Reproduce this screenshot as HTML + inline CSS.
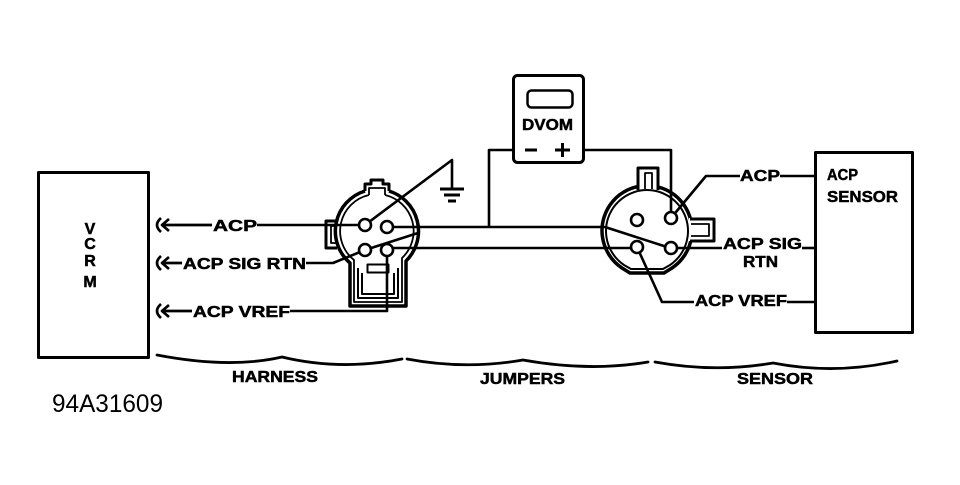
<!DOCTYPE html>
<html>
<head>
<meta charset="utf-8">
<style>
  html,body{margin:0;padding:0;background:#fff;}
  svg{display:block;}
  .lbl{font-family:"Liberation Sans",Arial,sans-serif;font-weight:bold;font-size:16px;fill:#000;stroke:#000;stroke-width:0.5px;}
  .num{font-family:"Liberation Sans",Arial,sans-serif;font-weight:normal;font-size:25px;fill:#000;stroke:none;}
</style>
</head>
<body>
<svg width="960" height="485" viewBox="0 0 960 485" xmlns="http://www.w3.org/2000/svg">
<rect width="960" height="485" fill="#fff"/>

<g fill="none" stroke="#000" stroke-linejoin="round">
  <!-- VCRM box -->
  <rect x="38.5" y="172.5" width="110" height="185" stroke-width="3"/>
  <!-- ACP sensor box -->
  <rect x="815.5" y="152.5" width="97" height="180" stroke-width="3"/>
  <!-- DVOM -->
  <rect x="513.5" y="75.5" width="70" height="87" rx="4" stroke-width="3"/>
  <rect x="527.5" y="90.5" width="45" height="17" rx="4" stroke-width="2.5"/>
  <line x1="525" y1="150" x2="537" y2="150" stroke-width="3"/>
  <line x1="555" y1="150" x2="570" y2="150" stroke-width="3"/>
  <line x1="562.5" y1="143" x2="562.5" y2="157" stroke-width="3"/>

  <!-- Left arrows (chevrons) -->
  <g stroke-width="2.7">
    <path d="M161,218 Q153,225 161,232"/>
    <path d="M169,219 L162,225 L169,231"/>
    <line x1="162" y1="225" x2="212" y2="225"/>
    <path d="M161,256 Q153,263 161,270"/>
    <path d="M169,257 L162,263 L169,269"/>
    <line x1="162" y1="263" x2="182" y2="263"/>
    <path d="M161,304 Q153,311 161,318"/>
    <path d="M169,305 L162,311 L169,317"/>
    <line x1="162" y1="311" x2="192" y2="311"/>
  </g>

  <!-- LEFT CONNECTOR -->
  <rect x="326" y="221" width="10" height="27" fill="#fff" stroke="none"/>
  <path d="M337,221 L326,221 L326,248 L337,248" stroke-width="3"/>
  <path d="M337,226 L331,226 L331,243 L337,243" stroke-width="1.8"/>
  <path d="M365,191 A42,42 0 0 0 350,263 L350,306 L406,306 L406,261 A42,42 0 0 0 389,191" stroke-width="3.5"/>
  <path d="M365,191 L365,184 L371,184 L371,180 L383,180 L383,184 L389,184 L389,191" stroke-width="3"/>
  <path d="M369,195 A37,37 0 0 0 354,260 L354,302 L402,302 L402,258 A37,37 0 0 0 385,195" stroke-width="1.8"/>
  <path d="M369,195 L369,188 L385,188 L385,195" stroke-width="1.8"/>
  <path d="M358,268 L358,298 L398,298 L398,268" stroke-width="2"/>
  <path d="M362,273 L362,294 L394,294 L394,273" stroke-width="2"/>
  <rect x="367.5" y="264.5" width="21" height="8" stroke-width="2"/>

  <!-- RIGHT CONNECTOR -->
  <path d="M622,268 A45,45 0 1 1 672,268 L664,273 L630,273 Z" stroke-width="3.5"/>
  <path d="M624,265 A41,41 0 1 1 670,265 L663,269 L631,269 Z" stroke-width="2"/>
  <rect x="638" y="166" width="20" height="23" fill="#fff" stroke="none"/>
  <path d="M638,190 L638,168 L658,168 L658,190" stroke-width="3"/>
  <path d="M645,189 L645,173 L652,173 L652,189" stroke-width="1.8"/>
  <rect x="689" y="218" width="25" height="23" fill="#fff" stroke="none"/>
  <path d="M690,219 L714,219 L714,241 L690,241" stroke-width="3"/>
  <path d="M691,224 L709,224 L709,236 L691,236" stroke-width="1.8"/>

  <!-- WIRES -->
  <g stroke-width="2.6">
    <line x1="257" y1="225" x2="365" y2="225"/>
    <path d="M306,263 L333,263 L365,250"/>
    <path d="M290,311 L387,311 L387,250"/>
    <path d="M365,225 L452,160 L452,189"/>
    <line x1="440" y1="189" x2="464" y2="189" stroke-width="3"/>
    <line x1="444" y1="195" x2="460" y2="195" stroke-width="3"/>
    <line x1="448" y1="201" x2="456" y2="201" stroke-width="3"/>
    <line x1="365" y1="250" x2="418" y2="233"/>
    <path d="M387,227 L605,227 L670,248"/>
    <path d="M387,248 L637,248"/>
    <path d="M513,150 L489,150 L489,227"/>
    <path d="M583,150 L671,150 L671,218"/>
    <path d="M671,218 L706,176 L740,176"/>
    <line x1="780" y1="176" x2="815" y2="176"/>
    <line x1="670" y1="248" x2="722" y2="248"/>
    <line x1="802" y1="248" x2="815" y2="248"/>
    <path d="M637,247 L662,302 L694,302"/>
    <line x1="787" y1="302" x2="815" y2="302"/>
  </g>

  <!-- PINS -->
  <g fill="#fff" stroke-width="2.6">
    <circle cx="365" cy="225" r="6"/>
    <circle cx="387" cy="227" r="6"/>
    <circle cx="365" cy="250" r="6"/>
    <circle cx="387" cy="250" r="6"/>
    <circle cx="637" cy="220" r="6"/>
    <circle cx="671" cy="218" r="6"/>
    <circle cx="637" cy="247" r="6"/>
    <circle cx="671" cy="248" r="6"/>
  </g>

  <!-- BRACES -->
  <g stroke-width="2.8" stroke-linecap="round">
    <path d="M157,355 Q230,369 282,357 Q340,371 402,359"/>
    <path d="M407,359 Q465,370 523,360 Q590,372 648,362"/>
    <path d="M655,362 Q715,373 773,363 Q835,375 897,361"/>
  </g>
</g>

<!-- TEXT -->
<g>
  <text class="lbl" x="90" y="234" text-anchor="middle" font-size="16">V</text>
  <text class="lbl" x="90" y="249" text-anchor="middle" font-size="16">C</text>
  <text class="lbl" x="90" y="266" text-anchor="middle" font-size="16">R</text>
  <text class="lbl" x="90" y="287" text-anchor="middle" font-size="16">M</text>

  <text class="lbl" x="213" y="231" textLength="44" lengthAdjust="spacingAndGlyphs">ACP</text>
  <text class="lbl" x="183" y="269" textLength="123" lengthAdjust="spacingAndGlyphs">ACP SIG RTN</text>
  <text class="lbl" x="193" y="317" textLength="97" lengthAdjust="spacingAndGlyphs">ACP VREF</text>

  <text class="lbl" x="522" y="130" font-size="17" textLength="51" lengthAdjust="spacingAndGlyphs">DVOM</text>

  <text class="lbl" x="740" y="181" textLength="40" lengthAdjust="spacingAndGlyphs">ACP</text>
  <text class="lbl" x="723" y="249" textLength="79" lengthAdjust="spacingAndGlyphs">ACP SIG</text>
  <text class="lbl" x="743" y="267" textLength="35" lengthAdjust="spacingAndGlyphs">RTN</text>
  <text class="lbl" x="695" y="306" textLength="92" lengthAdjust="spacingAndGlyphs">ACP VREF</text>

  <text class="lbl" x="827" y="180" textLength="31" lengthAdjust="spacingAndGlyphs">ACP</text>
  <text class="lbl" x="827" y="202" textLength="71" lengthAdjust="spacingAndGlyphs">SENSOR</text>

  <text class="lbl" x="232" y="382" textLength="86" lengthAdjust="spacingAndGlyphs">HARNESS</text>
  <text class="lbl" x="480" y="384" textLength="85" lengthAdjust="spacingAndGlyphs">JUMPERS</text>
  <text class="lbl" x="737" y="384" textLength="76" lengthAdjust="spacingAndGlyphs">SENSOR</text>
</g>
<text class="num" x="52" y="412" textLength="111" lengthAdjust="spacingAndGlyphs">94A31609</text>
</svg>
</body>
</html>
